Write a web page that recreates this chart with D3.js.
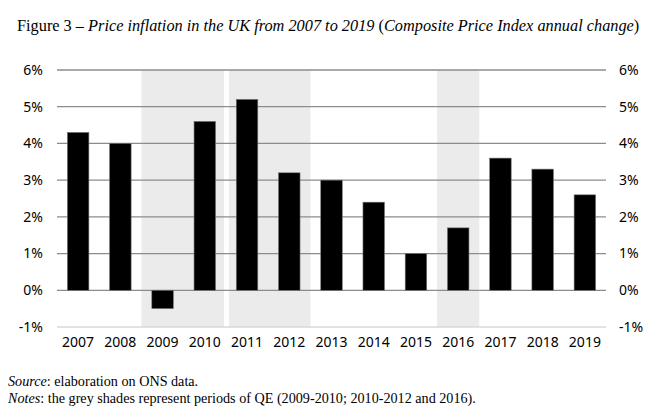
<!DOCTYPE html>
<html lang="en">
<head>
  <meta charset="UTF-8">
  <script src="https://cdn.jsdelivr.net/npm/d3@7"></script>
  <title>Figure 3</title>
  <style>
    body { margin: 0; background: #fff; }
  </style>
</head>
<body>
<script>
  // data
  const years = ["2007", "2008", "2009", "2010", "2011", "2012", "2013",
                 "2014", "2015", "2016", "2017", "2018", "2019"];
  const inflation = [4.3, 4.0, -0.5, 4.6, 5.2, 3.2, 3.0, 2.4, 1.0, 1.7, 3.6, 3.3, 2.6];
  const yTicks = [-1, 0, 1, 2, 3, 4, 5, 6];
  // QE periods, as first/last year
  const qeFrom = ["2009", "2011", "2016"];
  const qeTo = ["2010", "2012", "2016"];

  const w = 663, h = 411;
  const plotL = 57, plotR = 606, plotT = 70, plotB = 327;

  const svg = d3.select("body").append("svg")
    .attr("width", w).attr("height", h);

  const x = d3.scaleBand().domain(years).range([plotL, plotR]).paddingInner(0.49).paddingOuter(0.245);
  const band = d3.scaleBand().domain(years).range([plotL, plotR]);
  const y = d3.scaleLinear().domain([-1, 6]).range([plotB, plotT]);

  // grey shades
  svg.selectAll("rect.qe")
    .data(qeFrom.map((f, i) => ({ from: f, to: qeTo[i], i })))
    .enter().append("rect")
    .attr("class", "qe")
    .attr("x", d => band(d.from) + (d.i === 1 ? 3 : 0))
    .attr("width", d => band(d.to) + band.bandwidth() - band(d.from) - (d.i === 0 ? 2 : 0) - (d.i === 1 ? 3 : 0))
    .attr("y", plotT)
    .attr("height", plotB - plotT)
    .attr("fill", "#ebebeb");

  // gridlines
  svg.selectAll("line.grid")
    .data(yTicks)
    .enter().append("line")
    .attr("x1", plotL).attr("x2", plotR)
    .attr("y1", d => y(d)).attr("y2", d => y(d))
    .attr("stroke", d => d === -1 ? "#d9d9d9" : "#8c8c8c")
    .attr("stroke-width", 1.3);

  // bars
  svg.selectAll("rect.bar")
    .data(inflation)
    .enter().append("rect")
    .attr("x", (d, i) => x(years[i]))
    .attr("width", x.bandwidth())
    .attr("y", d => y(Math.max(0, d)))
    .attr("height", d => Math.abs(y(d) - y(0)))
    .attr("fill", "#000")
    .attr("stroke", "#777")
    .attr("stroke-width", 0.6);

  const tickFont = "'Noto Sans', sans-serif";

  // left and right axis labels
  svg.selectAll("text.yl")
    .data(yTicks).enter().append("text")
    .attr("x", 43).attr("y", d => y(d)).attr("dy", "0.35em")
    .attr("text-anchor", "end")
    .attr("font-family", tickFont).attr("font-size", 14)
    .text(d => d + "%");
  svg.selectAll("text.yr")
    .data(yTicks).enter().append("text")
    .attr("x", 619).attr("y", d => y(d)).attr("dy", "0.35em")
    .attr("text-anchor", "start")
    .attr("font-family", tickFont).attr("font-size", 14)
    .text(d => d + "%");

  // year labels
  svg.selectAll("text.xl")
    .data(years).enter().append("text")
    .attr("x", d => band(d) + band.bandwidth() / 2).attr("y", 347)
    .attr("text-anchor", "middle")
    .attr("font-family", tickFont).attr("font-size", 14)
    .text(d => d);

  const serif = "'Liberation Serif', serif";

  // scale a text's font size so it spans the given width
  function fit(t, width) {
    const len = t.node().getComputedTextLength();
    const fs = +t.attr("font-size");
    t.attr("font-size", fs * width / len);
  }

  // title
  const title = svg.append("text")
    .attr("x", 17).attr("y", 31)
    .attr("font-family", serif).attr("font-size", 14);
  title.append("tspan").text("Figure 3 \u2013 ");
  title.append("tspan").attr("font-style", "italic").text("Price inflation in the UK from 2007 to 2019 ");
  title.append("tspan").text("(");
  title.append("tspan").attr("font-style", "italic").text("Composite Price Index annual change");
  title.append("tspan").text(")");
  fit(title, 623);

  // notes
  const src = svg.append("text").attr("x", 8).attr("y", 386)
    .attr("font-family", serif).attr("font-size", 11.5);
  src.append("tspan").attr("font-style", "italic").text("Source");
  src.append("tspan").text(": elaboration on ONS data.");

  const notes = svg.append("text").attr("x", 8).attr("y", 403)
    .attr("font-family", serif).attr("font-size", 11.5);
  notes.append("tspan").attr("font-style", "italic").text("Notes");
  notes.append("tspan").text(": the grey shades represent periods of QE (2009-2010; 2010-2012 and 2016).");
  fit(notes, 468);
  src.attr("font-size", notes.attr("font-size"));
</script>
</body>
</html>
